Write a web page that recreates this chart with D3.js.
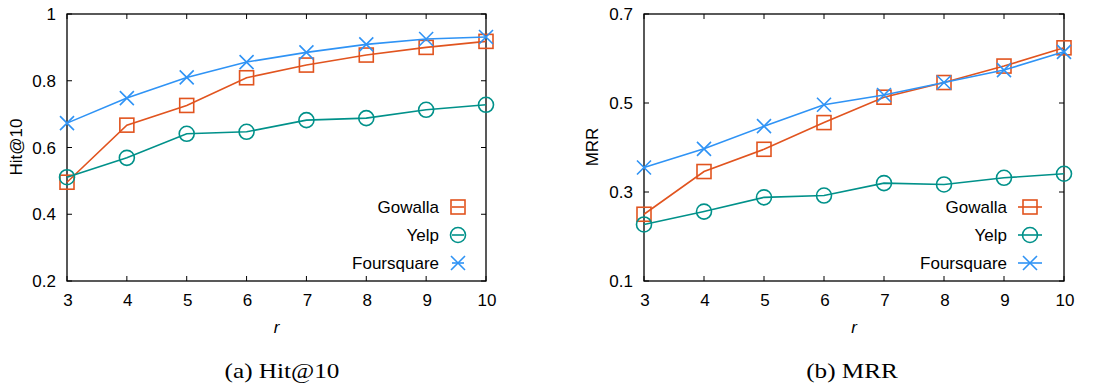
<!DOCTYPE html>
<html>
<head>
<meta charset="utf-8">
<script src="https://cdn.jsdelivr.net/npm/d3@7"></script>
<style>
  body { margin: 0; background: #fff; }
  svg { display: block; }
</style>
</head>
<body>
<svg width="1113" height="387"></svg>
<script>
const rValues = [3, 4, 5, 6, 7, 8, 9, 10];
const seriesNames = ["Gowalla", "Yelp", "Foursquare"];

const hitGowalla = [0.496, 0.667, 0.726, 0.809, 0.847, 0.877, 0.900, 0.918];
const hitYelp = [0.511, 0.569, 0.641, 0.647, 0.682, 0.688, 0.713, 0.728];
const hitFoursquare = [0.673, 0.748, 0.810, 0.856, 0.885, 0.909, 0.925, 0.931];

const mrrGowalla = [0.250, 0.346, 0.396, 0.456, 0.513, 0.546, 0.583, 0.624];
const mrrYelp = [0.227, 0.256, 0.288, 0.292, 0.320, 0.317, 0.332, 0.341];
const mrrFoursquare = [0.355, 0.397, 0.448, 0.496, 0.518, 0.546, 0.574, 0.615];

const hitTicks = [0.2, 0.4, 0.6, 0.8, 1];
const mrrTicks = [0.1, 0.3, 0.5, 0.7];

const colors = ["#e1541f", "#00918a", "#2f93f5"];
const markers = ["square", "circle", "cross"];

const svg = d3.select("svg");
const sans = "Liberation Sans, Arial, sans-serif";

function drawMarker(g, type, x, y, color) {
    if (type === "square") {
        g.append("rect").attr("x", x - 7).attr("y", y - 7).attr("width", 14).attr("height", 14)
            .attr("fill", "none").attr("stroke", color).attr("stroke-width", 1.6);
    } else if (type === "circle") {
        g.append("circle").attr("cx", x).attr("cy", y).attr("r", 7.5)
            .attr("fill", "none").attr("stroke", color).attr("stroke-width", 1.6);
    } else {
        g.append("path").attr("d", `M${x-7},${y-7}L${x+7},${y+7}M${x-7},${y+7}L${x+7},${y-7}`)
            .attr("fill", "none").attr("stroke", color).attr("stroke-width", 1.6);
    }
}

function drawChart(opt) {
    const g = svg.append("g");
    const x = d3.scaleLinear().domain([3, 10]).range([opt.left, opt.right]);
    const y = d3.scaleLinear().domain(opt.domain).range([281, 14]);

    // ticks (inward, mirrored)
    const tickLen = 5;
    opt.ticks.forEach(t => {
        g.append("line").attr("x1", opt.left).attr("x2", opt.left + tickLen)
            .attr("y1", y(t)).attr("y2", y(t)).attr("stroke", "#000");
        g.append("line").attr("x1", opt.right).attr("x2", opt.right - tickLen)
            .attr("y1", y(t)).attr("y2", y(t)).attr("stroke", "#000");
        g.append("text").attr("x", opt.left - 11).attr("y", y(t) + 6)
            .attr("text-anchor", "end").attr("font-family", sans)
            .attr("font-size", "17px").text(opt.fmt(t));
    });
    rValues.forEach(r => {
        g.append("line").attr("x1", x(r)).attr("x2", x(r))
            .attr("y1", 281).attr("y2", 281 - tickLen).attr("stroke", "#000");
        g.append("line").attr("x1", x(r)).attr("x2", x(r))
            .attr("y1", 14).attr("y2", 14 + tickLen).attr("stroke", "#000");
        g.append("text").attr("x", x(r) + 1).attr("y", 306)
            .attr("text-anchor", "middle").attr("font-family", sans)
            .attr("font-size", "17px").text(r);
    });

    g.append("rect").attr("x", opt.left).attr("y", 14)
        .attr("width", opt.right - opt.left).attr("height", 267)
        .attr("fill", "none").attr("stroke", "#000").attr("stroke-width", 1.3);

    // axis titles
    g.append("text").attr("transform", `translate(${opt.ylabX},147) rotate(-90)`)
        .attr("text-anchor", "middle").attr("font-family", sans)
        .attr("font-size", "17px").text(opt.ylabel);
    g.append("text").attr("x", (opt.left + opt.right) / 2).attr("y", 333)
        .attr("text-anchor", "middle").attr("font-family", sans)
        .attr("font-style", "italic").attr("font-size", "17px").text("r");

    const line = d3.line().x((d, i) => x(rValues[i])).y(d => y(d));
    opt.series.forEach((vals, k) => {
        g.append("path").datum(vals).attr("d", line)
            .attr("fill", "none").attr("stroke", colors[k]).attr("stroke-width", 1.6);
        vals.forEach((v, i) => drawMarker(g, markers[k], x(rValues[i]), y(v), colors[k]));
    });

    // legend
    seriesNames.forEach((name, k) => {
        const ly = 207 + k * 28;
        g.append("text").attr("x", opt.legText).attr("y", ly + 6)
            .attr("text-anchor", "end").attr("font-family", sans)
            .attr("font-size", "17px").text(name);
        g.append("line").attr("x1", opt.legMark - opt.legHalf).attr("x2", opt.legMark + opt.legHalf)
            .attr("y1", ly).attr("y2", ly).attr("stroke", colors[k]).attr("stroke-width", 1.6);
        drawMarker(g, markers[k], opt.legMark, ly, colors[k]);
    });

    // caption (serif, slightly stretched like the paper figure)
    svg.append("text").attr("transform", `translate(${opt.capX},378) scale(1.2,1)`)
        .attr("text-anchor", "middle").attr("font-family", "Liberation Serif, Times New Roman, serif")
        .attr("font-size", "21px").text(opt.caption);
}

drawChart({
    left: 67, right: 486, domain: [0.2, 1], ticks: hitTicks,
    fmt: t => t === 1 ? "1" : d3.format(".1f")(t),
    ylabel: "Hit@10", ylabX: 22,
    series: [hitGowalla, hitYelp, hitFoursquare],
    legText: 439, legMark: 458, legHalf: 6,
    caption: "(a) Hit@10", capX: 282
});

drawChart({
    left: 644, right: 1064, domain: [0.1, 0.7], ticks: mrrTicks,
    fmt: d3.format(".1f"),
    ylabel: "MRR", ylabX: 598,
    series: [mrrGowalla, mrrYelp, mrrFoursquare],
    legText: 1007, legMark: 1030, legHalf: 12,
    caption: "(b) MRR", capX: 852
});
</script>
</body>
</html>
